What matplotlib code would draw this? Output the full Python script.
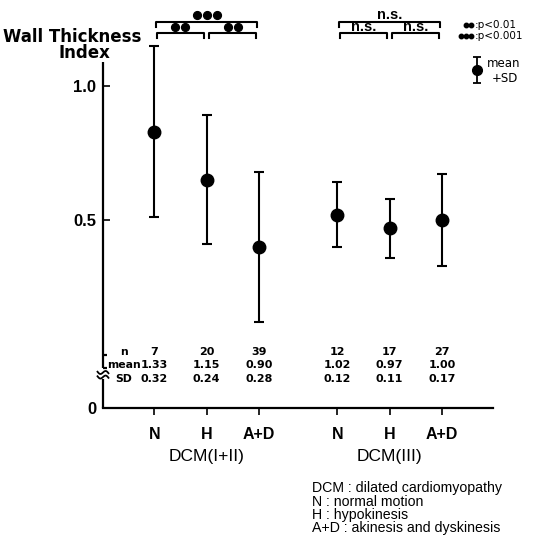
import numpy as np
import matplotlib.pyplot as plt
import matplotlib.transforms as mtransforms

plt.rcParams['font.family'] = ['Liberation Sans', 'DejaVu Sans']
WIDE = 'DejaVu Sans'

# data
categories = ['N', 'H', 'A+D', 'N', 'H', 'A+D']
groups = ['DCM(I+II)', 'DCM(III)']
xpos = [0, 1, 2, 3.5, 4.5, 5.5]
n_vals = [7, 20, 39, 12, 17, 27]
means = [1.33, 1.15, 0.90, 1.02, 0.97, 1.00]
sds = [0.32, 0.24, 0.28, 0.12, 0.11, 0.17]
# (from, to, label) ; dots = significance level
sig_pairs = [(0, 1, 'dots2'), (1, 2, 'dots2'), (0, 2, 'dots3'),
             (3, 4, 'n.s.'), (4, 5, 'n.s.'), (3, 5, 'n.s.')]
footnote = ['DCM : dilated cardiomyopathy', 'N : normal motion',
            'H : hypokinesis', 'A+D : akinesis and dyskinesis']

W, H = 533, 535
fig = plt.figure(figsize=(W / 100, H / 100), dpi=100)
ax = fig.add_axes([103 / W, 1 - 408 / H, 390 / W, 346 / H])

px_x = 52.3   # pixels per x unit
px_y = 268.0  # pixels per y unit
x0 = -51.3 / px_x
y0 = 0.2985
ax.set_xlim(x0, x0 + 390 / px_x)
ax.set_ylim(y0, y0 + 346 / px_y)

def fy(p):
    return 1 - p / H

trans = mtransforms.blended_transform_factory(ax.transData, fig.transFigure)

ax.errorbar(xpos, means, yerr=sds, fmt='o', color='black', ms=9, lw=1.5,
            capsize=3.8, capthick=1.5, clip_on=False)

# axes styling
for s in ['top', 'right', 'left']:
    ax.spines[s].set_visible(False)
ax.spines['bottom'].set_linewidth(1.6)
ax.set_xticks(xpos)
ax.set_xticklabels(categories, fontsize=11.5, fontweight='bold')
ax.tick_params(axis='x', direction='out', length=5, width=1.2, pad=9)
ax.set_yticks([y0, 1.0, 1.5])
ax.set_yticklabels(['0', '0.5', '1.0'], fontsize=12, fontweight='bold')
ax.tick_params(axis='y', direction='in', length=5, width=1.2, pad=5)

# broken y axis drawn by hand
lk = dict(color='black', lw=1.6, clip_on=False, solid_capstyle='butt')
ytop = ax.get_ylim()[1]
ax.plot([x0, x0], [ytop, 0.448], **lk)
ax.plot([x0, x0 + 4 / px_x], [0.448, 0.448], **lk)
ax.plot([x0, x0 + 4 / px_x], [0.496, 0.496], **lk)
ax.plot([x0, x0], [0.405, y0], **lk)
t = np.linspace(-1, 1, 30)
for yc in [0.431, 0.414]:
    ax.plot(x0 + t * 6 / px_x, yc + 2.2 / px_y * np.sin(t * np.pi) - t * 1.5 / px_y,
            **dict(lk, lw=1.3))

# n / mean / SD table
rows = [('n', [str(v) for v in n_vals]),
        ('mean', ['%.2f' % v for v in means]),
        ('SD', ['%.2f' % v for v in sds])]
for (lab, vals), yp in zip(rows, [351.7, 364.5, 378.5]):
    ax.text(-0.58, fy(yp), lab, transform=trans, ha='center', va='center',
            fontsize=7.8, fontweight='bold', family=WIDE)
    for xv, v in zip(xpos, vals):
        ax.text(xv, fy(yp), v, transform=trans, ha='center', va='center',
                fontsize=8, fontweight='bold', family=WIDE)

# group labels
ax.text(np.mean(xpos[:3]), fy(456), groups[0], transform=trans, ha='center',
        va='center', fontsize=12.5)
ax.text(np.mean(xpos[3:]), fy(456), groups[1], transform=trans, ha='center',
        va='center', fontsize=12.5)

# significance brackets
bk = dict(color='black', lw=1.5, clip_on=False, transform=trans)
for i, j, lab in sig_pairs:
    wide = (j - i) > 1
    ybar = 21.7 if wide else 33.3
    inset = 0.03 if wide else 0.05
    xa, xb = xpos[i] + inset, xpos[j] - inset
    ax.plot([xa, xa, xb, xb], [fy(ybar + 5), fy(ybar), fy(ybar), fy(ybar + 5)], **bk)
    xm = (xpos[i] + xpos[j]) / 2
    if lab == 'n.s.':
        ax.text(xm, fy(ybar - 2.5), lab, transform=trans, ha='center',
                va='baseline', fontsize=10.5, fontweight='bold')
    else:
        k = 3 if lab == 'dots3' else 2
        dx = 10 / px_x * (np.arange(k) - (k - 1) / 2)
        ax.plot(xm + dx, [fy(ybar - 6.5)] * k, 'o', color='black', ms=5.6,
                clip_on=False, transform=trans)

# legend at top right
ax.plot([465.7 / W, 470.7 / W], [fy(25)] * 2, 'o', color='black', ms=3.2,
        transform=fig.transFigure, clip_on=False)
ax.plot([460.7 / W, 465.7 / W, 470.7 / W], [fy(36)] * 3, 'o', color='black',
        ms=3.2, transform=fig.transFigure, clip_on=False)
fig.text(475 / W, fy(24.5), ':p<0.01', ha='left', va='center', fontsize=7.5,
         family=WIDE)
fig.text(474.5 / W, fy(36), ':p<0.001', ha='left', va='center', fontsize=7.5,
         family=WIDE)
ax.errorbar([476.7 / W], [fy(70)], yerr=[13 / H], fmt='o', color='black',
            ms=7, lw=1.3, capsize=3, capthick=1.3, transform=fig.transFigure,
            clip_on=False)
fig.text(487 / W, fy(63.5), 'mean', ha='left', va='center', fontsize=8.5,
         family=WIDE)
fig.text(492 / W, fy(79), '+SD', ha='left', va='center', fontsize=8.5,
         family=WIDE)

# y axis title
fig.text(72.5 / W, fy(41.5), 'Wall Thickness', ha='center', va='baseline',
         fontsize=12, fontweight='bold', family=WIDE)
fig.text(84 / W, fy(58), 'Index', ha='center', va='baseline',
         fontsize=12, fontweight='bold', family=WIDE)

# footnote
for k, line in enumerate(footnote):
    fig.text(311.7 / W, fy(488.3 + 13.3 * k), line, ha='left', va='center',
             fontsize=10.2)

fig.savefig('out.png', dpi=100)
